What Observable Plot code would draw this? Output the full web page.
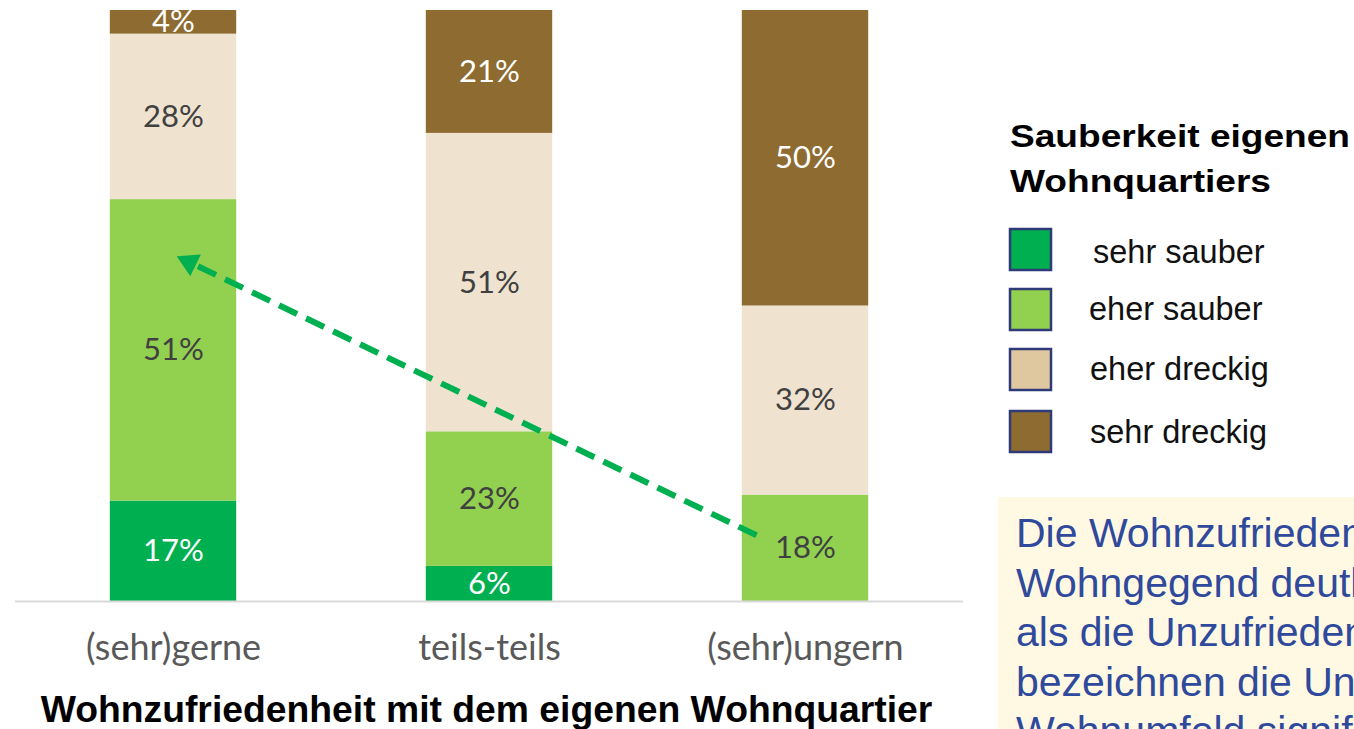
<!DOCTYPE html>
<html><head><meta charset="utf-8">
<script src="https://cdn.jsdelivr.net/npm/d3@7"></script>
<script src="https://cdn.jsdelivr.net/npm/@observablehq/plot@0.6"></script>
<style>
html,body{margin:0;padding:0;background:#fff;overflow:hidden;width:1354px;height:729px}
#wrap{position:relative;width:1354px;height:729px}
#chart{position:absolute;left:0;top:0}
#side{position:absolute;left:0;top:0}
</style></head><body><div id="wrap"><div id="chart"></div><svg id="side" width="1354" height="729"></svg></div>
<script>
// ---- data ----
const categories = ["(sehr)gerne", "teils-teils", "(sehr)ungern"];
const seriesNames = ["sehr sauber", "eher sauber", "eher dreckig", "sehr dreckig"];
const sehrSauber  = [17, 6, 0];
const eherSauber  = [51, 23, 18];
const eherDreckig = [28, 51, 32];
const sehrDreckig = [4, 21, 50];
const xTitle = "Wohnzufriedenheit mit dem eigenen Wohnquartier";
const legendTitle = ["Sauberkeit eigenen", "Wohnquartiers"];
const noteLines = [
  "Die Wohnzufriedenen bewerten die Sauberkeit ihrer",
  "Wohngegend deutlich positiver",
  "als die Unzufriedenen. Zudem",
  "bezeichnen die Unzufriedenen ihr",
  "Wohnumfeld signifikant häufiger als dreckig."
];
// arrow annotation (x in category index units, y as share of the bar)
const arrowLine = [{x1: 1.845, y1: 0.112, x2: 0.075, y2: 0.568}];
const arrowHead = [{x: 0.05, y: 0.574}];

// ---- styles ----
const barColors = ["#00b050", "#92d050", "#efe2cf", "#8e6b31"];
const legendColors = ["#00b050", "#92d050", "#dfc79f", "#8e6b31"];
const labelColors = ["#ffffff", "#404040", "#404040", "#ffffff"];

const values = [sehrSauber, eherSauber, eherDreckig, sehrDreckig];
const rows = [];
seriesNames.forEach((s, k) => values[k].forEach((v, i) => {
  if (v > 0) rows.push({series: s, k, i, category: categories[i], value: v});
}));

const chart = Plot.plot({
  width: 980, height: 729,
  marginTop: 10, marginBottom: 128, marginLeft: 15, marginRight: 17,
  x: {domain: [-0.5, 2.5], axis: null},
  y: {domain: [0, 1], axis: null},
  color: {type: "identity"},
  style: {fontFamily: "Lato, sans-serif", background: "transparent", overflow: "visible"},
  marks: [
    Plot.rectY(rows, Plot.stackY({
      x: "i", x1: d => d.i - 0.2, x2: d => d.i + 0.2,
      y: "value", z: "series", fill: d => barColors[d.k], offset: "normalize"
    })),
    Plot.ruleY([0], {stroke: "#d9d9d9", strokeWidth: 2}),
    Plot.text(rows, Plot.stackY({
      x: "i", y: "value", z: "series", offset: "normalize",
      text: d => d.value + "%", fill: d => labelColors[d.k], fontSize: 31
    })),
    Plot.link(arrowLine, {x1: "x1", y1: "y1", x2: "x2", y2: "y2",
      stroke: "#00b050", strokeWidth: 6, strokeDasharray: "20,10"}),
    Plot.dot(arrowHead, {x: "x", y: "y", symbol: "triangle", r: 9, fill: "#00b050", rotate: -64}),
    Plot.axisX({ticks: [0, 1, 2], tickFormat: i => categories[i], tickSize: 0, tickPadding: 33,
      fontSize: 36, fill: "#595959", label: null}),
    Plot.text([xTitle], {frameAnchor: "bottom", dy: 120, dx: -3, fontSize: 37.3, fontWeight: "bold",
      fontFamily: "Liberation Sans, Arial, sans-serif", fill: "#000"})
  ]
});
document.getElementById("chart").append(chart);

// ---- legend & note (outside the plot) ----
const side = d3.select("#side").style("font-family", "Liberation Sans, Arial, sans-serif");
side.append("text").attr("x", 1010).attr("y", 147).attr("font-size", 31).attr("font-weight", "bold")
  .attr("textLength", 340).attr("lengthAdjust", "spacingAndGlyphs").text(legendTitle[0]);
side.append("text").attr("x", 1010).attr("y", 192).attr("font-size", 31).attr("font-weight", "bold")
  .attr("textLength", 261).attr("lengthAdjust", "spacingAndGlyphs").text(legendTitle[1]);
const swTop = [229, 289, 349, 411];
const lblY = [263, 320, 380, 443];
const lblX = [1093, 1089, 1090, 1090];
seriesNames.forEach((s, k) => {
  side.append("rect").attr("x", 1010).attr("y", swTop[k]).attr("width", 41).attr("height", 41)
    .attr("fill", legendColors[k]).attr("stroke", "#2e3b78").attr("stroke-width", 2.5);
  side.append("text").attr("x", lblX[k]).attr("y", lblY[k]).attr("font-size", 32.5).attr("fill", "#111").text(s);
});
side.append("rect").attr("x", 998).attr("y", 497).attr("width", 400).attr("height", 260).attr("fill", "#fff8e2");
noteLines.forEach((t, j) => {
  side.append("text").attr("x", 1016).attr("y", 547 + j * 49.5).attr("font-size", 41).attr("fill", "#2f4a9c").text(t);
});
</script></body></html>
